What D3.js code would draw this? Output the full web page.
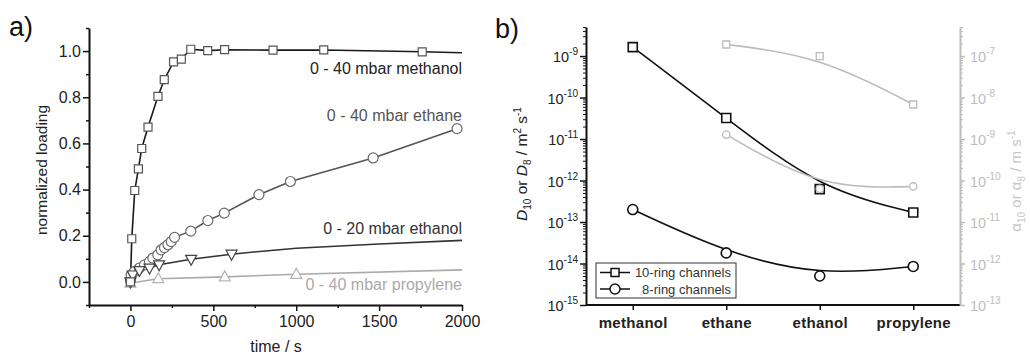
<!DOCTYPE html>
<html>
<head>
<meta charset="utf-8">
<script src="https://cdn.jsdelivr.net/npm/d3@7"></script>
<style>
  body { margin: 0; background: #fff; }
  svg { display: block; font-family: "Liberation Sans", Arial, Helvetica, sans-serif; }
</style>
</head>
<body>
<svg id="chart" width="1030" height="356"></svg>
<script>
// ---------- Panel a: normalized loading vs. time ----------
const methanolTime = [0, 8, 26, 48, 68, 106, 166, 204, 260, 307, 364, 466, 568, 860, 1166, 1760];
const methanolLoad = [0, 0.187, 0.396, 0.49, 0.578, 0.671, 0.804, 0.876, 0.953, 0.965, 1.008, 1.002, 1.006, 1.004, 1.005, 0.997];
const methanolTail = [[2000, 0.993]];

const ethaneTime = [0, 4, 24, 54, 85, 115, 135, 165, 185, 205, 226, 246, 266, 364, 467, 566, 775, 965, 1464, 1970];
const ethaneLoad = [0.005, 0.03, 0.045, 0.06, 0.074, 0.088, 0.103, 0.117, 0.139, 0.149, 0.161, 0.175, 0.193, 0.22, 0.266, 0.298, 0.378, 0.435, 0.537, 0.664];

const ethanolTime = [0, 14, 54, 115, 173, 366, 610];
const ethanolLoad = [0, 0.03, 0.049, 0.06, 0.074, 0.098, 0.12];
const ethanolTail = [[780, 0.132], [1000, 0.146], [1500, 0.164], [2000, 0.18]];

const propyleneTime = [0, 168, 569, 1001];
const propyleneLoad = [-0.005, 0.014, 0.022, 0.033];
const propyleneTail = [[2000, 0.052]];

const timeMajorTicks = [0, 500, 1000, 1500, 2000];
const timeMinorTicks = [-250, 250, 750, 1250, 1750];
const loadMajorTicks = [0, 0.2, 0.4, 0.6, 0.8, 1.0];
const loadMinorTicks = [-0.1, 0.1, 0.3, 0.5, 0.7, 0.9, 1.1];

const seriesLabels = ["0 - 40 mbar methanol", "0 - 40 mbar ethane", "0 - 20 mbar ethanol", "0 - 40 mbar propylene"];

// ---------- Panel b: diffusivities and surface permeabilities ----------
const molecules = ["methanol", "ethane", "ethanol", "propylene"];
const D10 = [1.64e-9, 3.2e-11, 6.2e-13, 1.7e-13];
const D8 = [2.0e-13, 1.8e-14, 5.0e-15, 8.5e-15];
const alpha10 = [null, 1.9e-7, 1.0e-7, 6.8e-9];
const alpha8 = [null, 1.28e-9, 6.3e-11, 7.2e-11];
const leftDecades = [-15, -14, -13, -12, -11, -10, -9];
const rightDecades = [-13, -12, -11, -10, -9, -8, -7];
const legendLabels = ["10-ring channels", "8-ring channels"];

const svg = d3.select("#chart");

// ===== Panel a =====
const xA = d3.scaleLinear().domain([-250, 2000]).range([89, 462]);
const yA = d3.scaleLinear().domain([-0.1, 1.1]).range([305, 28]);

function styleAxis(g, color, fontSize) {
  g.select(".domain").attr("stroke", color).attr("stroke-width", 2);
  g.selectAll(".tick line").attr("stroke", color).attr("stroke-width", 1.5);
  g.selectAll(".tick text").attr("fill", color === "#111" ? "#222" : color)
    .attr("font-size", fontSize).attr("font-family", null);
}

const gA = svg.append("g");

gA.append("g").attr("transform", "translate(0,305)")
  .call(d3.axisBottom(xA).tickValues(timeMinorTicks).tickSize(3).tickSizeOuter(0).tickFormat(""))
  .call(g => { g.select(".domain").remove(); g.selectAll(".tick line").attr("stroke", "#111").attr("stroke-width", 1.5); });
gA.append("g").attr("transform", "translate(0,305)")
  .call(d3.axisBottom(xA).tickValues(timeMajorTicks).tickSize(6).tickSizeOuter(0).tickPadding(5).tickFormat(d3.format("d")))
  .call(g => styleAxis(g, "#111", 16));

gA.append("g").attr("transform", "translate(89,0)")
  .call(d3.axisLeft(yA).tickValues(loadMinorTicks).tickSize(3).tickSizeOuter(0).tickFormat(""))
  .call(g => { g.select(".domain").remove(); g.selectAll(".tick line").attr("stroke", "#111").attr("stroke-width", 1.5); });
gA.append("g").attr("transform", "translate(89,0)")
  .call(d3.axisLeft(yA).tickValues(loadMajorTicks).tickSize(6).tickSizeOuter(0).tickPadding(2).tickFormat(d3.format(".1f")))
  .call(g => styleAxis(g, "#111", 16));

gA.append("text").attr("transform", "translate(47,170) rotate(-90)")
  .attr("text-anchor", "middle").attr("font-size", 15.5).attr("fill", "#222").text("normalized loading");
gA.append("text").attr("x", 276).attr("y", 352)
  .attr("text-anchor", "middle").attr("font-size", 16).attr("fill", "#222").text("time / s");
svg.append("text").attr("x", 9).attr("y", 36).attr("font-size", 27).attr("fill", "#111").text("a)");

const lineA = d3.line().x(d => xA(d[0])).y(d => yA(d[1]));
const zipA = (t, v) => t.map((d, i) => [d, v[i]]);

const squareSym = s => `M${-s/2},${-s/2}h${s}v${s}h${-s}Z`;
const triDown = (w, h) => `M${-w/2},${-h*0.4}L${w/2},${-h*0.4}L0,${h*0.6}Z`;
const triUp = (w, h) => `M${-w/2},${h*0.4}L${w/2},${h*0.4}L0,${-h*0.6}Z`;

const seriesA = [
  { pts: zipA(ethaneTime, ethaneLoad), tail: [], line: "#555", mk: "#6a6a6a", shape: "circle" },
  { pts: zipA(propyleneTime, propyleneLoad), tail: propyleneTail, line: "#aaa", mk: "#b5b5b5", shape: triUp(11, 10) },
  { pts: zipA(ethanolTime, ethanolLoad), tail: ethanolTail, line: "#333", mk: "#444", shape: triDown(11, 10) },
  { pts: zipA(methanolTime, methanolLoad), tail: methanolTail, line: "#1a1a1a", mk: "#555", shape: squareSym(8) }
];

seriesA.forEach(s => {
  gA.append("path").datum(s.pts.concat(s.tail)).attr("d", lineA)
    .attr("fill", "none").attr("stroke", s.line).attr("stroke-width", 1.6);
});
seriesA.forEach(s => {
  const g = gA.append("g");
  s.pts.forEach(p => {
    if (s.shape === "circle") {
      g.append("circle").attr("cx", xA(p[0])).attr("cy", yA(p[1])).attr("r", 5)
        .attr("fill", "#fff").attr("stroke", s.mk).attr("stroke-width", 1.2);
    } else {
      g.append("path").attr("d", s.shape).attr("transform", `translate(${xA(p[0])},${yA(p[1])})`)
        .attr("fill", "#fff").attr("stroke", s.mk).attr("stroke-width", 1.2);
    }
  });
});

const labelPos = [[462, 74, "#222"], [462, 120.5, "#555"], [462, 233.5, "#333"], [462, 290, "#aaa"]];
seriesLabels.forEach((t, i) => {
  gA.append("text").attr("x", labelPos[i][0]).attr("y", labelPos[i][1])
    .attr("text-anchor", "end").attr("font-size", 16).attr("fill", labelPos[i][2]).text(t);
});

// ===== Panel b =====
const xB = d3.scalePoint().domain(molecules).range([586, 960]).padding(0.5);
const yB = d3.scaleLog().domain([1e-15, Math.pow(10, -8.3)]).range([305, 27]);
const yB2 = d3.scaleLog().domain([1e-13, Math.pow(10, -6.3)]).range([305, 27]);

function minorLogTicks(scale, decades) {
  const top = scale.domain()[1], out = [];
  decades.forEach(e => { for (let m = 2; m <= 9; m++) { const v = m * Math.pow(10, e); if (v <= top) out.push(v); } });
  return out;
}

const gB = svg.append("g");

// bottom category axis
gB.append("g").attr("transform", "translate(0,305)")
  .call(d3.axisBottom(xB).tickSize(5).tickSizeOuter(0).tickPadding(7))
  .call(g => {
    g.select(".domain").attr("stroke", "#111").attr("stroke-width", 2)
      .attr("d", "M586,0H960");
    g.selectAll(".tick line").attr("stroke", "#111").attr("stroke-width", 1.5);
    g.selectAll(".tick text").attr("fill", "#222").attr("font-size", 15)
      .attr("font-weight", "bold").attr("font-family", null).attr("letter-spacing", 0.3);
  });

// left log axis
gB.append("g").attr("transform", "translate(586,0)")
  .call(d3.axisLeft(yB).tickValues(minorLogTicks(yB, leftDecades)).tickSize(3).tickFormat(""))
  .call(g => { g.select(".domain").remove(); g.selectAll(".tick line").attr("stroke", "#111").attr("stroke-width", 1); });
gB.append("g").attr("transform", "translate(586,0)")
  .call(d3.axisLeft(yB).tickValues(leftDecades.map(e => Math.pow(10, e))).tickSize(6).tickSizeOuter(0).tickFormat(""))
  .call(g => { g.select(".domain").attr("stroke", "#111").attr("stroke-width", 2); g.selectAll(".tick line").attr("stroke", "#111").attr("stroke-width", 1.5); });
leftDecades.forEach(e => {
  const t = gB.append("text").attr("x", 578).attr("y", yB(Math.pow(10, e)) + 6)
    .attr("text-anchor", "end").attr("font-size", 14.5).attr("fill", "#222");
  t.append("tspan").text("10");
  t.append("tspan").attr("font-size", 10).attr("dy", -7).text(String(e));
});

// right log axis
const rightColor = "#bdbdbd";
gB.append("g").attr("transform", "translate(960,0)")
  .call(d3.axisRight(yB2).tickValues(minorLogTicks(yB2, rightDecades)).tickSize(3).tickFormat(""))
  .call(g => { g.select(".domain").remove(); g.selectAll(".tick line").attr("stroke", rightColor).attr("stroke-width", 1); });
gB.append("g").attr("transform", "translate(960,0)")
  .call(d3.axisRight(yB2).tickValues(rightDecades.map(e => Math.pow(10, e))).tickSize(5).tickSizeOuter(0).tickFormat(""))
  .call(g => { g.select(".domain").attr("stroke", rightColor).attr("stroke-width", 2); g.selectAll(".tick line").attr("stroke", rightColor).attr("stroke-width", 1.5); });
rightDecades.forEach(e => {
  const t = gB.append("text").attr("x", 970).attr("y", yB2(Math.pow(10, e)) + 6)
    .attr("text-anchor", "start").attr("font-size", 14.5).attr("fill", rightColor);
  t.append("tspan").text("10");
  t.append("tspan").attr("font-size", 10).attr("dy", -7).text(String(e));
});

// axis titles
const tl = gB.append("text").attr("transform", "translate(527,164) rotate(-90)")
  .attr("text-anchor", "middle").attr("font-size", 15.5).attr("fill", "#222");
tl.append("tspan").attr("font-style", "italic").text("D");
tl.append("tspan").attr("font-size", 10).attr("dy", 4).text("10");
tl.append("tspan").attr("dy", -4).text(" or ");
tl.append("tspan").attr("font-style", "italic").text("D");
tl.append("tspan").attr("font-size", 10).attr("dy", 4).text("8");
tl.append("tspan").attr("dy", -4).text(" / m");
tl.append("tspan").attr("font-size", 10).attr("dy", -6).text("2");
tl.append("tspan").attr("dy", 6).text(" s");
tl.append("tspan").attr("font-size", 10).attr("dy", -6).text("-1");

const tr = gB.append("text").attr("transform", "translate(1021,181) rotate(-90)")
  .attr("text-anchor", "middle").attr("font-size", 15).attr("fill", "#c8c8c8");
tr.append("tspan").text("α");
tr.append("tspan").attr("font-size", 10).attr("dy", 4).text("10");
tr.append("tspan").attr("dy", -4).text(" or α");
tr.append("tspan").attr("font-size", 10).attr("dy", 4).text("8");
tr.append("tspan").attr("dy", -4).text(" / m s");
tr.append("tspan").attr("font-size", 10).attr("dy", -6).text("-1");

svg.append("text").attr("x", 495).attr("y", 38).attr("font-size", 27).attr("fill", "#111").text("b)");

// series curves (B-spline through the measured points)
const pts = (vals, y) => molecules.map((m, i) => vals[i] == null ? null : [xB(m), y(vals[i])]).filter(d => d);
const basis = d3.line().curve(d3.curveBasis);

const seriesB = [
  { p: pts(D10, yB), color: "#111", sw: 1.6, shape: "square", size: 9, mw: 1.6 },
  { p: pts(D8, yB), color: "#111", sw: 1.6, shape: "circle", size: 5, mw: 1.6 },
  { p: pts(alpha10, yB2), color: "#bbb", sw: 1.6, shape: "square", size: 7, mw: 1.3 },
  { p: pts(alpha8, yB2), color: "#bbb", sw: 1.6, shape: "circle", size: 3.7, mw: 1.3 }
];

function marker(g, shape, size, x, y, color, w) {
  if (shape === "circle") {
    g.append("circle").attr("cx", x).attr("cy", y).attr("r", size)
      .attr("fill", "#fff").attr("stroke", color).attr("stroke-width", w);
  } else {
    g.append("path").attr("d", squareSym(size)).attr("transform", `translate(${x},${y})`)
      .attr("fill", "#fff").attr("stroke", color).attr("stroke-width", w);
  }
}

seriesB.forEach(s => {
  gB.append("path").attr("d", basis(s.p)).attr("fill", "none")
    .attr("stroke", s.color).attr("stroke-width", s.sw);
  s.p.forEach(p => marker(gB, s.shape, s.size, p[0], p[1], s.color, s.mw));
});

// legend
const lg = gB.append("g");
lg.append("rect").attr("x", 596).attr("y", 263).attr("width", 140).attr("height", 35)
  .attr("fill", "#fff").attr("stroke", "#333").attr("stroke-width", 1);
[[272.5, "square", 8], [289, "circle", 5]].forEach((r, i) => {
  lg.append("line").attr("x1", 600).attr("x2", 630).attr("y1", r[0]).attr("y2", r[0])
    .attr("stroke", "#111").attr("stroke-width", 1.5);
  marker(lg, r[1], r[2], 615, r[0], "#111", 1.5);
  lg.append("text").attr("x", 731).attr("y", r[0] + 4.5).attr("text-anchor", "end")
    .attr("font-size", 13).attr("fill", "#333").text(legendLabels[i]);
});
</script>
</body>
</html>
